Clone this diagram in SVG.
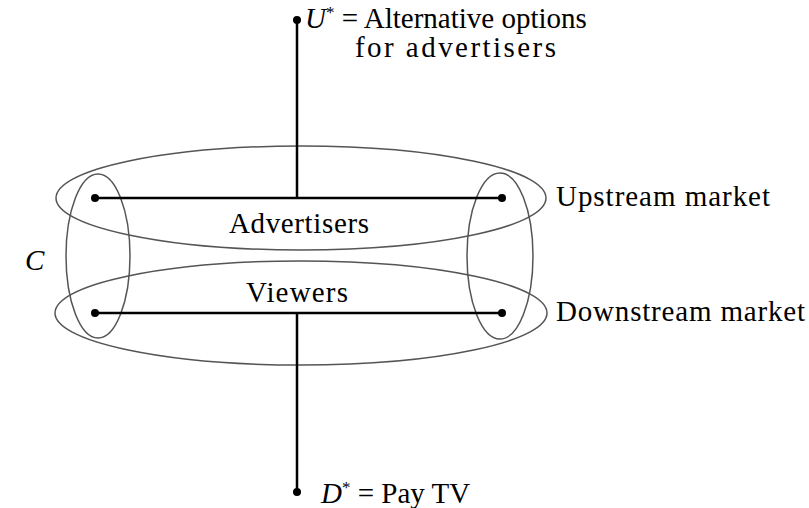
<svg xmlns="http://www.w3.org/2000/svg" width="809" height="508" viewBox="0 0 809 508">
<style>
.ell{fill:none;stroke:#555;stroke-width:1.5}
.ln{stroke:#000;stroke-width:2.5;fill:none}
.dot{fill:#000}
text{font-family:"Liberation Serif",serif;font-size:29px;fill:#000}
.it{font-style:italic}
.sup{font-size:17px}
</style>
<rect width="809" height="508" fill="#fff"/>
<g id="markets">
<ellipse id="upstream-ellipse" class="ell" cx="301" cy="198" rx="245" ry="52"/>
<ellipse id="downstream-ellipse" class="ell" cx="301" cy="313" rx="246" ry="52"/>
<ellipse id="left-ellipse" class="ell" cx="98" cy="256" rx="32" ry="82"/>
<ellipse id="right-ellipse" class="ell" cx="500" cy="256" rx="33" ry="83"/>
</g>
<g id="connectors">
<line class="ln" x1="297" y1="20" x2="297" y2="198"/>
<line class="ln" x1="95" y1="198" x2="502" y2="198"/>
<line class="ln" x1="95" y1="313" x2="502" y2="313"/>
<line class="ln" x1="297" y1="313" x2="297" y2="492"/>
<circle class="dot" cx="297" cy="20" r="4"/>
<circle class="dot" cx="95" cy="198" r="4"/>
<circle class="dot" cx="502" cy="198" r="4"/>
<circle class="dot" cx="95" cy="313" r="4"/>
<circle class="dot" cx="502" cy="313" r="4"/>
<circle class="dot" cx="297" cy="492" r="4"/>
</g>
<g id="labels">
<text id="u-star" x="305" y="28"><tspan class="it">U</tspan><tspan class="sup" dy="-10">*</tspan><tspan dy="10"> = Alternative options</tspan></text>
<text id="u-star-2" x="355" y="57" textLength="201">for advertisers</text>
<text id="upstream" x="556" y="206" textLength="214">Upstream market</text>
<text id="downstream" x="556" y="321" textLength="249">Downstream market</text>
<text id="advertisers" x="229" y="233" textLength="140">Advertisers</text>
<text id="viewers" x="246" y="302" textLength="102">Viewers</text>
<text id="c" class="it" x="25" y="270">C</text>
<text id="d-star" x="321" y="503"><tspan class="it">D</tspan><tspan class="sup" dy="-10">*</tspan><tspan dy="10"> = Pay TV</tspan></text>
</g>
</svg>
